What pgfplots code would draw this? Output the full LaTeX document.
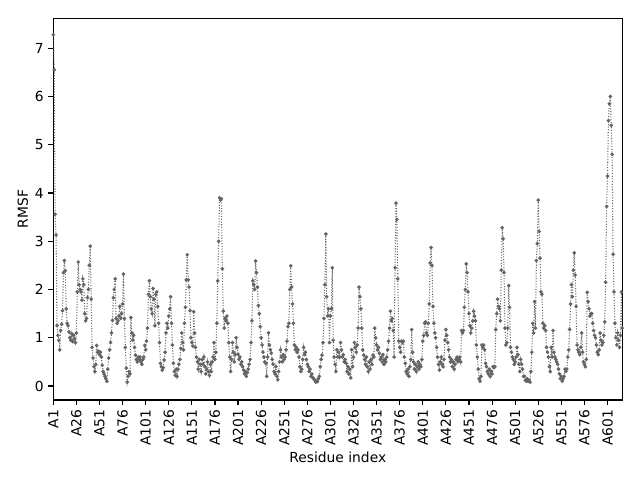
\documentclass[border=0pt]{standalone}
\usepackage{fontspec}
\setmainfont{DejaVu Sans}
\usepackage{pgfplots}
\pgfplotsset{compat=1.18}
\definecolor{ln}{RGB}{100,100,100}
\begin{document}
\begin{tikzpicture}
\useasboundingbox (-0.533in,-0.80in) rectangle (5.867in,4.00in);
\begin{axis}[
  scale only axis,
  width=5.69in, height=3.817in,
  xmin=0, xmax=616, ymin=-0.29, ymax=7.62,
  axis line style={line width=0.8pt},
  tick style={line width=0.8pt, black},
  tick align=outside,
  major tick length=3.5pt,
  xtick pos=left, ytick pos=left,
  xtick={0,25,...,600},
  xticklabels={A1,A26,A51,A76,A101,A126,A151,A176,A201,A226,A251,A276,A301,A326,A351,A376,A401,A426,A451,A476,A501,A526,A551,A576,A601},
  xticklabel style={rotate=90, anchor=east, font=\fontsize{10}{12}\selectfont},
  ytick={0,1,...,7},
  yticklabel style={font=\fontsize{10}{12}\selectfont},
  /pgf/number format/assume math mode=true,
  xlabel={Residue index}, ylabel={RMSF},
  label style={font=\fontsize{10}{12}\selectfont},
  xlabel style={yshift=2pt},
  ylabel style={yshift=-2pt},
]
\addplot[color=ln, dash pattern=on 0.75pt off 1.2pt, line width=0.75pt, mark=*, mark size=0.9pt, mark options={solid, fill=ln, draw=ln}] coordinates {
(0,7.28)(1,6.55)(2,3.56)(3,3.13)(4,1.25)(5,1.05)(6,0.95)(7,0.75)(8,1.15)(9,1.28)
(10,1.56)(11,2.35)(12,2.6)(13,2.39)(14,1.6)(15,1.3)(16,1.25)(17,1.12)(18,1.0)(19,0.95)
(20,1.08)(21,0.92)(22,1.05)(23,0.98)(24,0.9)(25,1.1)(26,1.95)(27,2.57)(28,2.1)(29,2.0)
(30,1.95)(31,1.78)(32,2.22)(33,2.1)(34,1.5)(35,1.35)(36,1.4)(37,1.83)(38,2.0)(39,2.5)
(40,2.9)(41,1.8)(42,0.8)(43,0.58)(44,0.4)(45,0.3)(46,0.45)(47,0.84)(48,0.7)(49,0.72)
(50,0.65)(51,0.7)(52,0.6)(53,0.43)(54,0.3)(55,0.25)(56,0.2)(57,0.15)(58,0.1)(59,0.35)
(60,0.58)(61,0.75)(62,0.9)(63,1.1)(64,1.36)(65,1.83)(66,2.0)(67,2.22)(68,1.4)(69,1.3)
(70,1.35)(71,1.45)(72,1.65)(73,1.4)(74,1.5)(75,1.7)(76,2.32)(77,1.4)(78,0.8)(79,0.37)
(80,0.08)(81,0.2)(82,0.3)(83,0.25)(84,1.42)(85,1.1)(86,0.95)(87,1.05)(88,0.8)(89,0.64)
(90,0.55)(91,0.5)(92,0.6)(93,0.55)(94,0.6)(95,0.5)(96,0.45)(97,0.55)(98,0.6)(99,0.84)
(100,0.75)(101,0.93)(102,1.2)(103,1.9)(104,2.18)(105,1.85)(106,1.6)(107,1.5)(108,2.02)(109,1.8)
(110,1.25)(111,1.9)(112,1.95)(113,1.65)(114,1.3)(115,0.9)(116,0.47)(117,0.4)(118,0.33)(119,0.38)
(120,0.54)(121,0.7)(122,1.1)(123,1.3)(124,1.2)(125,1.45)(126,1.6)(127,1.85)(128,1.3)(129,0.85)
(130,0.47)(131,0.3)(132,0.22)(133,0.35)(134,0.2)(135,0.35)(136,0.45)(137,0.55)(138,0.78)(139,1.1)
(140,0.9)(141,0.75)(142,1.3)(143,1.63)(144,2.2)(145,2.72)(146,2.2)(147,2.05)(148,1.56)(149,1.0)
(150,0.9)(151,0.83)(152,1.54)(153,1.1)(154,0.8)(155,0.6)(156,0.5)(157,0.35)(158,0.55)(159,0.45)
(160,0.3)(161,0.55)(162,0.45)(163,0.6)(164,0.4)(165,0.25)(166,0.35)(167,0.5)(168,0.3)(169,0.22)
(170,0.45)(171,0.3)(172,0.5)(173,0.6)(174,0.9)(175,0.55)(176,0.7)(177,1.3)(178,2.18)(179,3.0)
(180,3.9)(181,3.85)(182,3.88)(183,2.43)(184,1.55)(185,1.2)(186,1.4)(187,1.35)(188,1.45)(189,1.3)
(190,0.9)(191,0.6)(192,0.3)(193,0.55)(194,0.9)(195,0.7)(196,0.5)(197,0.65)(198,1.0)(199,0.8)
(200,0.66)(201,0.55)(202,0.6)(203,0.45)(204,0.5)(205,0.4)(206,0.33)(207,0.25)(208,0.3)(209,0.2)
(210,0.28)(211,0.35)(212,0.45)(213,0.55)(214,0.9)(215,1.35)(216,2.18)(217,2.1)(218,2.0)(219,2.59)
(220,2.35)(221,2.05)(222,1.67)(223,1.5)(224,1.23)(225,1.0)(226,0.85)(227,0.7)(228,0.6)(229,0.5)
(230,0.47)(231,0.2)(232,0.6)(233,1.1)(234,0.85)(235,0.75)(236,0.68)(237,0.55)(238,0.45)(239,0.3)
(240,0.25)(241,0.4)(242,0.2)(243,0.13)(244,0.3)(245,0.5)(246,0.75)(247,0.6)(248,0.5)(249,0.65)
(250,0.55)(251,0.6)(252,0.75)(253,0.93)(254,1.23)(255,1.3)(256,2.0)(257,2.49)(258,2.05)(259,1.7)
(260,1.3)(261,0.85)(262,0.75)(263,0.8)(264,0.7)(265,0.75)(266,0.6)(267,0.4)(268,0.3)(269,0.35)
(270,0.55)(271,0.8)(272,0.65)(273,0.7)(274,0.55)(275,0.45)(276,0.4)(277,0.3)(278,0.35)(279,0.2)
(280,0.25)(281,0.17)(282,0.15)(283,0.12)(284,0.08)(285,0.1)(286,0.09)(287,0.15)(288,0.2)(289,0.4)
(290,0.55)(291,0.64)(292,0.9)(293,1.4)(294,2.1)(295,3.15)(296,1.85)(297,1.45)(298,1.6)(299,0.9)
(300,1.45)(301,1.6)(302,2.45)(303,0.95)(304,0.6)(305,0.45)(306,0.3)(307,0.75)(308,0.6)(309,0.7)
(310,0.6)(311,0.9)(312,0.75)(313,0.6)(314,0.65)(315,0.5)(316,0.55)(317,0.47)(318,0.3)(319,0.4)
(320,0.25)(321,0.35)(322,0.17)(323,0.75)(324,0.4)(325,0.6)(326,0.9)(327,0.8)(328,0.7)(329,0.85)
(330,1.2)(331,2.05)(332,1.85)(333,1.6)(334,1.2)(335,0.75)(336,0.64)(337,0.55)(338,0.45)(339,0.6)
(340,0.4)(341,0.3)(342,0.5)(343,0.35)(344,0.55)(345,0.45)(346,0.64)(347,0.6)(348,1.2)(349,1.0)
(350,0.85)(351,0.75)(352,0.8)(353,0.68)(354,0.55)(355,0.6)(356,0.5)(357,0.65)(358,0.45)(359,0.55)
(360,0.5)(361,0.6)(362,0.75)(363,0.93)(364,1.2)(365,1.55)(366,1.35)(367,1.4)(368,1.15)(369,0.6)
(370,2.45)(371,3.79)(372,3.45)(373,2.22)(374,0.93)(375,0.8)(376,0.7)(377,0.93)(378,0.9)(379,0.93)
(380,0.6)(381,0.47)(382,0.3)(383,0.25)(384,0.35)(385,0.2)(386,0.4)(387,0.55)(388,1.17)(389,0.7)
(390,0.5)(391,0.35)(392,0.45)(393,0.3)(394,0.4)(395,0.5)(396,0.35)(397,0.45)(398,0.4)(399,0.55)
(400,0.93)(401,1.05)(402,1.3)(403,1.33)(404,1.1)(405,1.05)(406,1.3)(407,1.7)(408,2.55)(409,2.87)
(410,2.5)(411,1.65)(412,1.3)(413,1.1)(414,1.0)(415,0.8)(416,0.6)(417,0.45)(418,0.33)(419,0.5)
(420,0.6)(421,0.45)(422,0.4)(423,0.55)(424,0.95)(425,1.17)(426,1.05)(427,0.9)(428,0.75)(429,0.6)
(430,0.5)(431,0.55)(432,0.4)(433,0.5)(434,0.35)(435,0.45)(436,0.55)(437,0.6)(438,0.5)(439,0.55)
(440,0.6)(441,0.5)(442,1.15)(443,1.1)(444,1.15)(445,1.63)(446,2.0)(447,2.53)(448,2.35)(449,1.95)
(450,1.5)(451,1.25)(452,1.1)(453,1.2)(454,1.35)(455,1.55)(456,1.45)(457,1.35)(458,0.85)(459,0.6)
(460,0.35)(461,0.15)(462,0.1)(463,0.2)(464,0.85)(465,0.8)(466,0.85)(467,0.75)(468,0.47)(469,0.4)
(470,0.3)(471,0.25)(472,0.35)(473,0.2)(474,0.3)(475,0.25)(476,0.4)(477,0.38)(478,0.4)(479,1.17)
(480,1.5)(481,1.8)(482,1.65)(483,1.6)(484,1.35)(485,2.4)(486,3.28)(487,3.05)(488,2.35)(489,1.2)
(490,0.85)(491,0.9)(492,1.2)(493,2.08)(494,1.63)(495,0.8)(496,0.7)(497,0.6)(498,0.55)(499,0.45)
(500,0.5)(501,0.6)(502,0.8)(503,0.65)(504,0.45)(505,0.3)(506,0.55)(507,0.45)(508,0.35)(509,0.2)
(510,0.2)(511,0.12)(512,0.1)(513,0.15)(514,0.1)(515,0.12)(516,0.08)(517,0.3)(518,0.7)(519,1.3)
(520,1.1)(521,1.75)(522,1.2)(523,2.6)(524,2.95)(525,3.85)(526,3.2)(527,2.65)(528,1.95)(529,1.9)
(530,1.3)(531,1.2)(532,1.25)(533,1.15)(534,0.8)(535,0.7)(536,0.6)(537,0.4)(538,0.3)(539,0.8)
(540,0.6)(541,1.15)(542,0.7)(543,0.6)(544,0.55)(545,0.5)(546,0.45)(547,0.35)(548,0.25)(549,0.15)
(550,0.2)(551,0.1)(552,0.15)(553,0.2)(554,0.35)(555,0.3)(556,0.35)(557,0.6)(558,0.75)(559,1.17)
(560,1.7)(561,2.1)(562,1.85)(563,2.4)(564,2.76)(565,2.3)(566,1.65)(567,0.85)(568,0.75)(569,0.7)
(570,0.65)(571,0.8)(572,1.1)(573,0.7)(574,0.5)(575,0.45)(576,0.4)(577,0.55)(578,1.94)(579,1.75)
(580,1.6)(581,1.45)(582,1.5)(583,1.5)(584,1.3)(585,1.15)(586,1.05)(587,1.0)(588,0.85)(589,0.7)
(590,0.65)(591,0.75)(592,1.1)(593,0.95)(594,0.85)(595,0.9)(596,1.05)(597,1.33)(598,2.15)(599,3.72)
(600,4.35)(601,5.5)(602,5.85)(603,6.0)(604,5.4)(605,4.8)(606,2.73)(607,1.95)(608,1.3)(609,1.0)
(610,0.85)(611,1.1)(612,0.95)(613,0.8)(614,1.05)(615,1.95)(616,1.2)
};
\end{axis}
\end{tikzpicture}
\end{document}
